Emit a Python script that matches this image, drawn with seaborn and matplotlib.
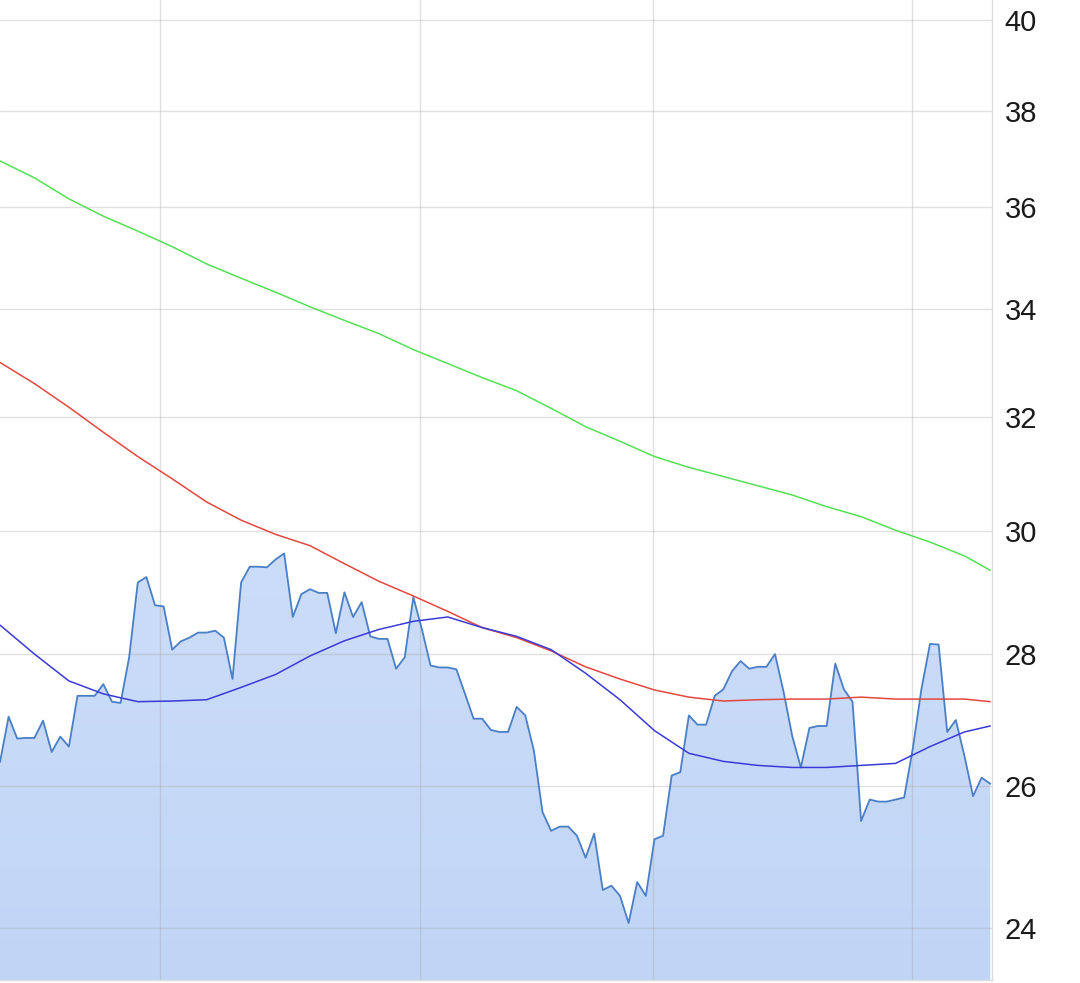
import matplotlib

matplotlib.use("Agg")
import matplotlib.pyplot as plt  # noqa: E402
import numpy as np  # noqa: E402
import pandas as pd  # noqa: E402
import seaborn as sns  # noqa: E402
from matplotlib.colors import LinearSegmentedColormap  # noqa: E402
from matplotlib.ticker import NullFormatter  # noqa: E402

# daily closing prices (trading-day index 0..115)
price = [
    26.35, 27.03, 26.70, 26.71, 26.71, 26.97, 26.50, 26.73, 26.58, 27.35,
    27.35, 27.35, 27.53, 27.26, 27.24, 27.95, 29.15, 29.24, 28.78, 28.76,
    28.07, 28.20, 28.26, 28.34, 28.34, 28.37, 28.26, 27.61, 29.15, 29.41,
    29.41, 29.40, 29.53, 29.63, 28.59, 28.96, 29.04, 28.98, 28.98, 28.33,
    28.99, 28.59, 28.83, 28.28, 28.24, 28.24, 27.77, 27.95, 28.91, 28.39,
    27.82, 27.79, 27.79, 27.76, 27.38, 27.00, 27.00, 26.83, 26.80, 26.80,
    27.18, 27.05, 26.52, 25.62, 25.35, 25.41, 25.41, 25.28, 24.97, 25.31,
    24.52, 24.58, 24.44, 24.07, 24.63, 24.44, 25.23, 25.28, 26.15, 26.20,
    27.05, 26.91, 26.91, 27.35, 27.45, 27.73, 27.89, 27.77, 27.80, 27.80,
    28.00, 27.41, 26.74, 26.27, 26.86, 26.89, 26.89, 27.85, 27.45, 27.26,
    25.49, 25.80, 25.77, 25.77, 25.80, 25.83, 26.55, 27.45, 28.16, 28.15,
    26.80, 26.98, 26.44, 25.85, 26.12, 26.03,
]
day = list(range(len(price)))

# moving averages read at every 4th trading day
ma_day = [0, 4, 8, 12, 16, 20, 24, 28, 32, 36, 40, 44, 48, 52, 56,
          60, 64, 68, 72, 76, 80, 84, 88, 92, 96, 100, 104, 108, 112, 115]
ma_short = [28.46, 28.00, 27.58, 27.38, 27.26, 27.27, 27.29, 27.48, 27.68, 27.97,
            28.21, 28.39, 28.52, 28.59, 28.42, 28.28, 28.07, 27.70, 27.29, 26.82,
            26.48, 26.36, 26.30, 26.27, 26.27, 26.30, 26.33, 26.58, 26.80, 26.89]
ma_mid = [32.99, 32.60, 32.17, 31.72, 31.29, 30.90, 30.50, 30.19, 29.95, 29.76,
          29.46, 29.17, 28.93, 28.68, 28.42, 28.26, 28.05, 27.80, 27.61, 27.44,
          27.33, 27.27, 27.29, 27.30, 27.30, 27.33, 27.30, 27.30, 27.30, 27.26]
ma_long = [36.95, 36.60, 36.17, 35.82, 35.52, 35.21, 34.87, 34.59, 34.32, 34.04,
           33.78, 33.53, 33.23, 32.97, 32.71, 32.47, 32.15, 31.82, 31.56, 31.29,
           31.10, 30.94, 30.78, 30.62, 30.42, 30.25, 30.02, 29.82, 29.59, 29.35]

y_ticks = [24, 26, 28, 30, 32, 34, 36, 38, 40]
month_lines = [18.6, 48.8, 75.85, 105.9]

prices = pd.DataFrame({"day": day, "close": price})
mas = pd.DataFrame({"day": ma_day, "short": ma_short, "mid": ma_mid, "long": ma_long})

sns.set_style("white")
plt.rcParams["font.family"] = ["Liberation Sans", "DejaVu Sans"]

fig = plt.figure(figsize=(10.8, 9.83), dpi=100)
ax = fig.add_axes([0.0, 3 / 983, 992 / 1080, 980 / 983])
ax.set_yscale("log")
ax.set_axisbelow("line")

# gradient area under the price line
poly = ax.fill_between(prices["day"], prices["close"], 1, color="none", lw=0, zorder=0.6)
grad = np.linspace(1, 0, 256).reshape(-1, 1)
cmap = LinearSegmentedColormap.from_list("fill", ["#c0d5f6", "#dbe7fb"])
img = ax.imshow(grad, cmap=cmap, extent=[0, 1, 0, 1], transform=ax.transAxes,
                aspect="auto", zorder=0.5)
img.set_clip_path(poly.get_paths()[0], transform=ax.transData)

sns.lineplot(data=prices, x="day", y="close", ax=ax, color="#4a7fc6", lw=1.3, zorder=3)
sns.lineplot(data=mas, x="day", y="long", ax=ax, color="#55e055", lw=1.1, zorder=4)
sns.lineplot(data=mas, x="day", y="mid", ax=ax, color="#e4473f", lw=1.1, zorder=4)
sns.lineplot(data=mas, x="day", y="short", ax=ax, color="#3a3ad6", lw=1.1, zorder=5)

ax.set_xlim(0, 115.2)
ax.set_ylim(23.31, 40.45)

ax.yaxis.tick_right()
ax.set_yticks(y_ticks)
ax.set_yticklabels([str(t) for t in y_ticks])
ax.yaxis.set_minor_formatter(NullFormatter())
ax.yaxis.set_minor_locator(matplotlib.ticker.NullLocator())
ax.set_xticks(month_lines)
ax.set_xticklabels([])
ax.tick_params(axis="both", length=0)
ax.tick_params(axis="y", labelsize=21, colors="#1a1a1a", pad=9)
ax.set_xlabel("")
ax.set_ylabel("")

ax.grid(True, color="#a8a8a8", alpha=0.35, lw=1.0)
for side in ("left", "top"):
    ax.spines[side].set_visible(False)
for side in ("right", "bottom"):
    ax.spines[side].set_color("#dddddd")
    ax.spines[side].set_linewidth(1.0)

fig.savefig("out.png", dpi=100, facecolor="white")
plt.close(fig)
